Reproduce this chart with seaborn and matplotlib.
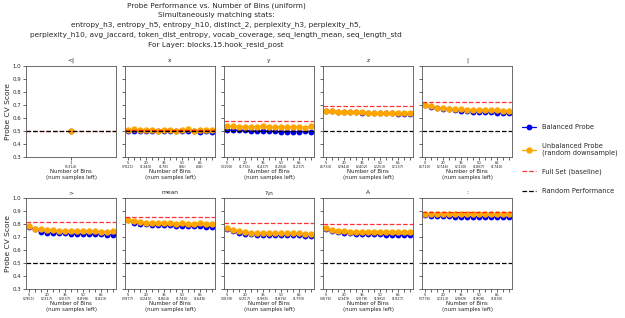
"""
Probe performance vs number of bins, per token, for one layer
"""
import numpy as np
import pandas as pd
import matplotlib
matplotlib.use('Agg')
import matplotlib.pyplot as plt
import seaborn as sns

# bins used for the balanced / unbalanced probes
bins = [5, 10, 15, 20, 25, 30, 35, 40, 45, 50, 55, 60, 65, 70, 75]
labeled_bins = [5, 20, 35, 50, 65]

tokens = ['<|', 'x', 'y', 'z', '|', '>', 'mean', '?\\n', 'A', ':']

# samples left at the labeled bins
samples_left = {
    'x': [7021, 1340, 178, 86, 48],
    'y': [3190, 1731, 1437, 1284, 1237],
    'z': [4733, 2944, 2402, 2253, 2137],
    '|': [4710, 2746, 2130, 1887, 1740],
    '>': [2951, 2317, 2037, 1898, 1823],
    'mean': [3977, 2245, 1864, 1740, 1648],
    '?\\n': [3039, 2257, 1985, 1876, 1793],
    'A': [3676, 2349, 2078, 1982, 1927],
    ':': [3776, 2313, 2089, 1908, 1830],
}

balanced = {
    'x': [0.500, 0.495, 0.500, 0.500, 0.498, 0.497, 0.500, 0.500, 0.498, 0.500, 0.495, 0.500, 0.492, 0.495, 0.493],
    'y': [0.505, 0.503, 0.503, 0.503, 0.495, 0.497, 0.497, 0.495, 0.495, 0.490, 0.493, 0.492, 0.493, 0.495, 0.493],
    'z': [0.655, 0.650, 0.648, 0.645, 0.645, 0.645, 0.638, 0.640, 0.640, 0.638, 0.635, 0.635, 0.630, 0.633, 0.632],
    '|': [0.698, 0.685, 0.675, 0.668, 0.665, 0.660, 0.655, 0.650, 0.648, 0.648, 0.645, 0.643, 0.640, 0.638, 0.635],
    '>': [0.780, 0.760, 0.742, 0.735, 0.735, 0.728, 0.728, 0.726, 0.725, 0.725, 0.724, 0.723, 0.722, 0.718, 0.718],
    'mean': [0.830, 0.810, 0.803, 0.798, 0.792, 0.792, 0.790, 0.790, 0.785, 0.786, 0.785, 0.785, 0.782, 0.780, 0.780],
    '?\\n': [0.765, 0.745, 0.730, 0.725, 0.722, 0.718, 0.718, 0.715, 0.715, 0.712, 0.715, 0.715, 0.713, 0.708, 0.708],
    'A': [0.765, 0.745, 0.738, 0.730, 0.728, 0.725, 0.722, 0.722, 0.720, 0.720, 0.718, 0.718, 0.715, 0.715, 0.712],
    ':': [0.870, 0.865, 0.863, 0.862, 0.860, 0.858, 0.858, 0.858, 0.858, 0.858, 0.857, 0.857, 0.855, 0.855, 0.855],
}

unbalanced = {
    'x': [0.508, 0.510, 0.507, 0.507, 0.503, 0.500, 0.505, 0.505, 0.500, 0.505, 0.510, 0.500, 0.505, 0.503, 0.503],
    'y': [0.535, 0.535, 0.533, 0.530, 0.530, 0.530, 0.535, 0.530, 0.530, 0.530, 0.532, 0.530, 0.530, 0.525, 0.535],
    'z': [0.655, 0.650, 0.648, 0.645, 0.645, 0.642, 0.642, 0.640, 0.640, 0.640, 0.638, 0.640, 0.640, 0.638, 0.637],
    '|': [0.698, 0.690, 0.680, 0.675, 0.672, 0.668, 0.665, 0.662, 0.660, 0.662, 0.660, 0.658, 0.658, 0.655, 0.655],
    '>': [0.782, 0.765, 0.760, 0.757, 0.752, 0.748, 0.748, 0.748, 0.745, 0.745, 0.745, 0.745, 0.742, 0.742, 0.745],
    'mean': [0.835, 0.825, 0.818, 0.812, 0.810, 0.808, 0.805, 0.805, 0.803, 0.805, 0.803, 0.803, 0.808, 0.800, 0.800],
    '?\\n': [0.770, 0.755, 0.743, 0.738, 0.735, 0.732, 0.732, 0.732, 0.730, 0.730, 0.730, 0.730, 0.730, 0.725, 0.725],
    'A': [0.770, 0.755, 0.748, 0.745, 0.742, 0.740, 0.742, 0.740, 0.738, 0.740, 0.738, 0.738, 0.738, 0.738, 0.742],
    ':': [0.880, 0.878, 0.878, 0.877, 0.877, 0.877, 0.876, 0.877, 0.877, 0.876, 0.877, 0.876, 0.876, 0.875, 0.875],
}

# '<|' only has one bin
single_bin = 1
single_samples = 5314
single_balanced = 0.500
single_unbalanced = 0.500

full_set = {'<|': 0.500, 'x': 0.505, 'y': 0.575, 'z': 0.690, '|': 0.720,
            '>': 0.815, 'mean': 0.855, '?\\n': 0.810, 'A': 0.800, ':': 0.890}
random_perf = 0.5

title = ("Probe Performance vs. Number of Bins (uniform)\n"
         "Simultaneously matching stats:\n"
         "entropy_h3, entropy_h5, entropy_h10, distinct_2, perplexity_h3, perplexity_h5,\n"
         "perplexity_h10, avg_jaccard, token_dist_entropy, vocab_coverage, seq_length_mean, seq_length_std\n"
         "For Layer: blocks.15.hook_resid_post")

sns.set_style('ticks')
plt.rcParams['font.family'] = ['DejaVu Sans']

fig, axes = plt.subplots(2, 5, figsize=(6.25, 3.18), dpi=100, sharey=True)
fig.subplots_adjust(left=0.041, right=0.82, top=0.792, bottom=0.092, wspace=0.09, hspace=0.46)

BLUE = '#0000ee'
ORANGE = '#ffa500'

for ax, tok in zip(axes.flat, tokens):
    if tok == '<|':
        b_bins, b_vals, u_vals = [single_bin], [single_balanced], [single_unbalanced]
        tick_labels = [f"{single_bin}\n({single_samples})"]
    else:
        b_bins, b_vals, u_vals = bins, balanced[tok], unbalanced[tok]
        lab = dict(zip(labeled_bins, samples_left[tok]))
        tick_labels = [f"{b}\n({lab[b]})" if b in lab else "" for b in b_bins]

    pos = np.arange(len(b_bins))
    df = pd.DataFrame({'pos': pos, 'bal': b_vals, 'unb': u_vals})
    sns.lineplot(data=df, x='pos', y='bal', ax=ax, color=BLUE, marker='o',
                 markersize=4.2, markeredgewidth=0, linewidth=0.9, label='Balanced Probe')
    sns.lineplot(data=df, x='pos', y='unb', ax=ax, color=ORANGE, marker='o',
                 markersize=4.6, markeredgewidth=0, linewidth=0.9,
                 label='Unbalanced Probe\n(random downsample)')
    ax.axhline(full_set[tok], color='red', linestyle='--', linewidth=0.9, alpha=0.8,
               label='Full Set (baseline)')
    ax.axhline(random_perf, color='black', linestyle='--', linewidth=0.9,
               label='Random Performance')

    ax.set_xticks(pos)
    ax.set_xticklabels(tick_labels, fontsize=2.7, linespacing=1.0)
    if len(pos) > 1:
        ax.set_xlim(-0.6, len(pos) - 0.4)
    else:
        ax.set_xlim(-1, 1)
    ax.set_ylim(0.3, 1.0)
    ax.set_yticks(np.arange(0.3, 1.01, 0.1))
    ax.tick_params(axis='both', length=2, width=0.5, pad=1.2)
    ax.tick_params(axis='x', pad=0.8)
    ax.tick_params(axis='y', labelsize=3.9)
    ax.set_title(tok, fontsize=4.3, pad=3)
    ax.set_xlabel("Number of Bins\n(num samples left)", fontsize=3.9, labelpad=0.6,
                  linespacing=1.05)
    ax.set_ylabel("")
    for sp in ax.spines.values():
        sp.set_linewidth(0.6)
        sp.set_color('#555555')
    ax.get_legend().remove()

for ax in axes[:, 0]:
    ax.set_ylabel("Probe CV Score", fontsize=5.4, labelpad=1.0)

handles, labels = axes[0, 1].get_legend_handles_labels()
fig.legend(handles, labels, loc='center left', bbox_to_anchor=(0.825, 0.5),
           frameon=False, fontsize=4.8, labelspacing=1.9, handlelength=2.2)

fig.suptitle(title, x=0.346, y=0.992, fontsize=5.3, linespacing=1.65)

fig.savefig('out.png', dpi=100)
